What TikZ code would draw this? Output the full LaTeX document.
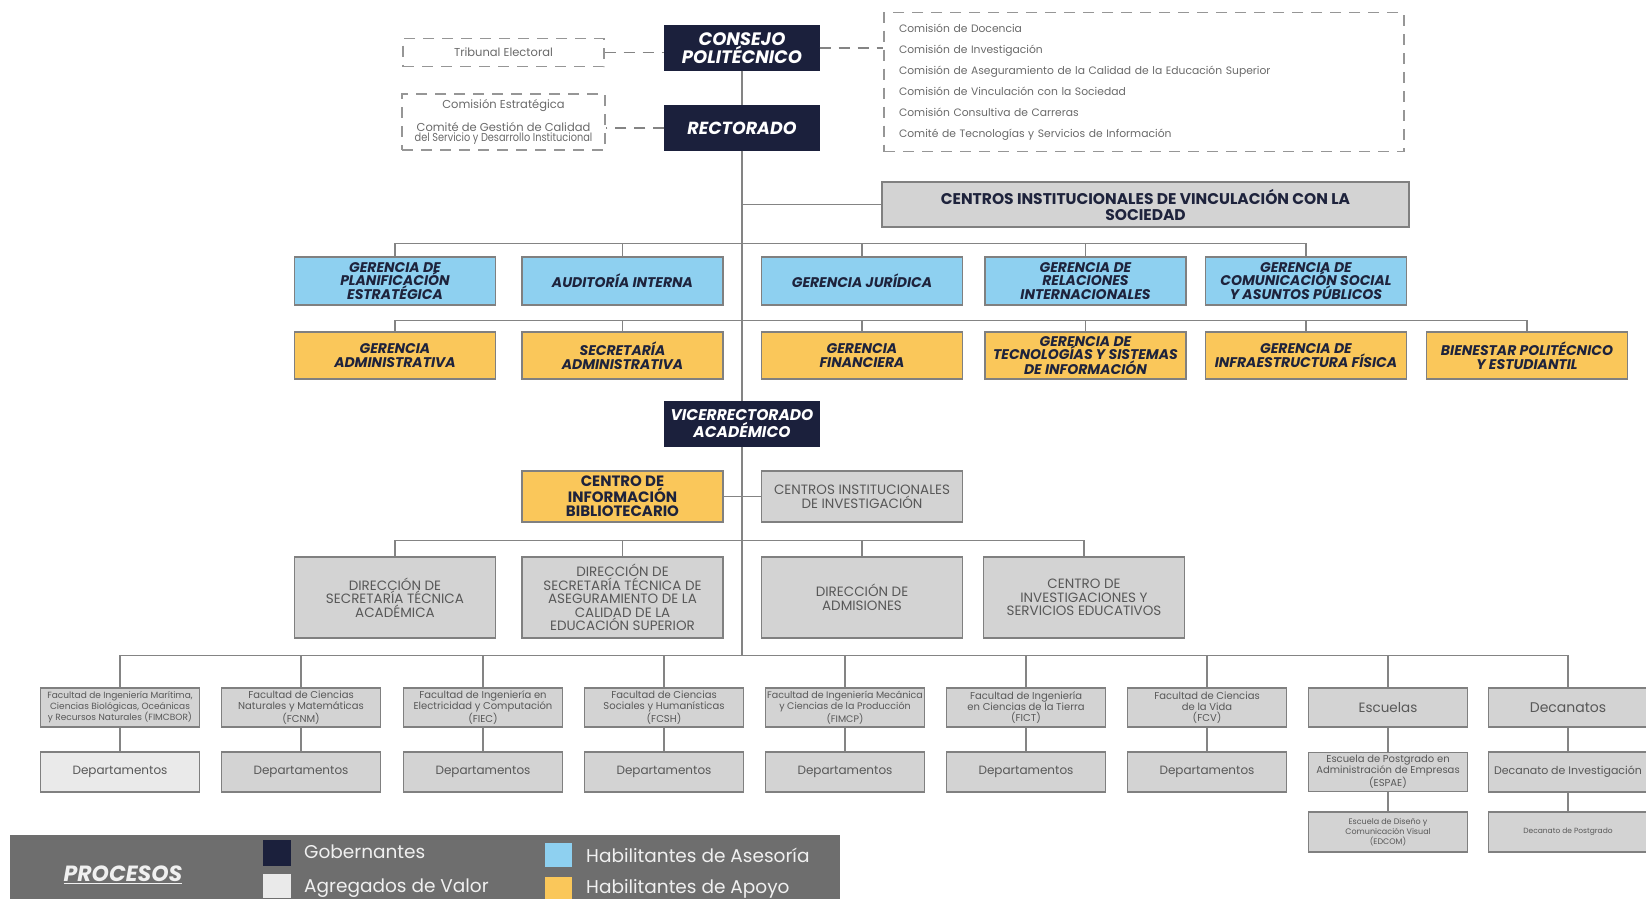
\documentclass[tikz,border=0pt]{standalone}
\usepackage{fontspec}
\setmainfont{Poppins}
\usepackage{graphicx}
\definecolor{navy}{RGB}{27,32,60}
\definecolor{navytext}{RGB}{30,35,60}
\definecolor{skyfill}{RGB}{142,208,240}
\definecolor{gold}{RGB}{250,199,90}
\definecolor{grayfill}{RGB}{211,211,211}
\definecolor{lightfill}{RGB}{234,234,234}
\definecolor{graytext}{RGB}{88,88,88}
\definecolor{boxline}{RGB}{128,128,128}
\definecolor{connline}{RGB}{132,132,132}
\definecolor{dashline}{RGB}{150,150,150}
\definecolor{dashtext}{RGB}{105,105,105}
\definecolor{legendbg}{RGB}{110,110,110}
\definecolor{legendtext}{RGB}{240,240,240}
\tikzset{
  boxbase/.style={draw=boxline, line width=1.4pt, rectangle, align=center, inner sep=2pt},
  gov/.style={boxbase, draw=navy, fill=navy, text=white,
    font=\fontsize{18}{18.5}\selectfont\bfseries\itshape,
    minimum width=154pt, minimum height=44pt},
  asesoria/.style={boxbase, fill=skyfill, text=navytext,
    font=\fontsize{14}{13.8}\selectfont\bfseries\itshape,
    minimum width=201pt, minimum height=48pt},
  apoyo/.style={asesoria, fill=gold, minimum height=47pt},
  valor/.style={boxbase, fill=grayfill, text=graytext,
    font=\fontsize{13.5}{13.6}\selectfont, minimum width=201pt},
  fac/.style={boxbase, fill=grayfill, text=graytext, inner sep=1pt,
    font=\fontsize{10}{11}\selectfont, minimum width=159pt, minimum height=39pt},
  dept/.style={fac, minimum height=40pt, font=\fontsize{12}{13}\selectfont},
  advisory/.style={draw=dashline, line width=1.2pt, dash pattern=on 11pt off 8pt,
    text=dashtext, align=center},
  conn/.style={draw=connline, line width=1.3pt},
  dconn/.style={conn, dash pattern=on 11pt off 8pt},
  swatch/.style={rectangle, inner sep=0pt},
  legtext/.style={text=legendtext, font=\fontsize{18.5}{18.5}\selectfont, anchor=west, inner sep=0pt}
}
\begin{document}
\begin{tikzpicture}[x=1pt,y=-1pt]
\useasboundingbox (0,0) rectangle (1646,898);

% ---------- governing bodies ----------
\node[gov] (consejo) at (742,48) {CONSEJO\\POLITÉCNICO};
\node[gov, font=\fontsize{17.5}{18}\selectfont\bfseries\itshape] (rector) at (742,128) {RECTORADO};
\node[gov, font=\fontsize{15.5}{17}\selectfont\bfseries\itshape] (vice) at (742,424) {VICERRECTORADO\\ACADÉMICO};

% ---------- advisory committees ----------
\node[advisory, minimum width=201pt, minimum height=28pt,
      font=\fontsize{11.5}{12}\selectfont] (trib) at (503.5,52.5) {Tribunal Electoral};
\node[advisory, minimum width=203pt, minimum height=56pt,
      font=\fontsize{11.5}{9.5}\selectfont] (cest) at (503.5,122)
  {Comisión Estratégica\\[10pt]Comité de Gestión de Calidad\\\scalebox{0.85}[1]{del Servicio y Desarrollo Institucional}};
\node[advisory, minimum width=520pt, minimum height=139pt, text width=490pt,
      align=left, inner xsep=15pt, font=\fontsize{10.75}{21}\selectfont] (comis) at (1144,82)
  {Comisión de Docencia\\
   Comisión de Investigación\\
   Comisión de Aseguramiento de la Calidad de la Educación Superior\\
   Comisión de Vinculación con la Sociedad\\
   Comisión Consultiva de Carreras\\
   Comité de Tecnologías y Servicios de Información};

\draw[dconn] (trib.east) -- (trib.east -| consejo.west);
\draw[dconn] (consejo.east) -- (consejo.east -| comis.west);
\draw[dconn] (rector.west) -- (rector.west -| cest.east);

% ---------- vinculación ----------
\node[valor, minimum width=527pt, minimum height=45pt, text=navytext,
      font=\fontsize{15.5}{16}\selectfont\bfseries] (vinc) at (1145.5,204.5)
  {CENTROS INSTITUCIONALES DE VINCULACIÓN CON LA\\SOCIEDAD};

% ---------- advisory units ----------
\node[asesoria] (b1) at (395,281) {GERENCIA DE\\PLANIFICACIÓN\\ESTRATÉGICA};
\node[asesoria] (b2) at (622.5,281) {AUDITORÍA INTERNA};
\node[asesoria] (b3) at (862,281) {GERENCIA JURÍDICA};
\node[asesoria] (b4) at (1085.5,281) {GERENCIA DE\\RELACIONES\\INTERNACIONALES};
\node[asesoria] (b5) at (1306,281) {GERENCIA DE\\COMUNICACIÓN SOCIAL\\Y ASUNTOS PÚBLICOS};

% ---------- support units ----------
\node[apoyo] (y1) at (395,355.5) {GERENCIA\\ADMINISTRATIVA};
\node[apoyo] (y2) at (622.5,355.5) {SECRETARÍA\\ADMINISTRATIVA};
\node[apoyo] (y3) at (862,355.5) {GERENCIA\\FINANCIERA};
\node[apoyo] (y4) at (1085.5,355.5) {GERENCIA DE\\TECNOLOGÍAS Y SISTEMAS\\DE INFORMACIÓN};
\node[apoyo] (y5) at (1306,355.5) {GERENCIA DE\\INFRAESTRUCTURA FÍSICA};
\node[apoyo] (y6) at (1527,355.5) {BIENESTAR POLITÉCNICO\\Y ESTUDIANTIL};

% ---------- academic area ----------
\node[apoyo, minimum height=51pt, font=\fontsize{15}{14.5}\selectfont\bfseries] (cib) at (622.5,496.5)
  {CENTRO DE\\INFORMACIÓN\\BIBLIOTECARIO};
\node[valor, minimum height=51pt] (cii) at (862,496.5) {CENTROS INSTITUCIONALES\\DE INVESTIGACIÓN};

\node[valor, minimum height=81pt] (d1) at (395,597.5) {DIRECCIÓN DE\\SECRETARÍA TÉCNICA\\ACADÉMICA};
\node[valor, minimum height=81pt] (d2) at (622.5,597.5)
  {DIRECCIÓN DE\\SECRETARÍA TÉCNICA DE\\ASEGURAMIENTO DE LA\\CALIDAD DE LA\\EDUCACIÓN SUPERIOR};
\node[valor, minimum height=81pt] (d3) at (862,597.5) {DIRECCIÓN DE\\ADMISIONES};
\node[valor, minimum height=81pt] (d4) at (1084,597.5) {CENTRO DE\\INVESTIGACIONES Y\\SERVICIOS EDUCATIVOS};

% ---------- faculties ----------
\node[fac, font=\fontsize{9}{11}\selectfont] (f1) at (120,707.5) {Facultad de Ingeniería Marítima,\\Ciencias Biológicas, Oceánicas\\y Recursos Naturales (FIMCBOR)};
\node[fac] (f2) at (301,707.5) {Facultad de Ciencias\\Naturales y Matemáticas\\(FCNM)};
\node[fac] (f3) at (483,707.5) {Facultad de Ingeniería en\\Electricidad y Computación\\(FIEC)};
\node[fac] (f4) at (664,707.5) {Facultad de Ciencias\\Sociales y Humanísticas\\(FCSH)};
\node[fac, font=\fontsize{9.5}{11}\selectfont] (f5) at (845,707.5) {Facultad de Ingeniería Mecánica\\y Ciencias de la Producción\\(FIMCP)};
\node[fac] (f6) at (1026,707.5) {Facultad de Ingeniería\\en Ciencias de la Tierra\\(FICT)};
\node[fac] (f7) at (1207,707.5) {Facultad de Ciencias\\de la Vida\\(FCV)};
\node[fac, font=\fontsize{13.5}{14}\selectfont] (f8) at (1388,707.5) {Escuelas};
\node[fac, font=\fontsize{14}{14}\selectfont] (f9) at (1568,707.5) {Decanatos};

\node[dept, fill=lightfill] (p1) at (120,772) {Departamentos};
\node[dept] (p2) at (301,772) {Departamentos};
\node[dept] (p3) at (483,772) {Departamentos};
\node[dept] (p4) at (664,772) {Departamentos};
\node[dept] (p5) at (845,772) {Departamentos};
\node[dept] (p6) at (1026,772) {Departamentos};
\node[dept] (p7) at (1207,772) {Departamentos};
\node[fac] (e1) at (1388,772) {Escuela de Postgrado en\\Administración de Empresas\\(ESPAE)};
\node[fac, minimum height=40pt, font=\fontsize{8}{10}\selectfont] (e2) at (1388,832) {Escuela de Diseño y\\Comunicación Visual\\(EDCOM)};
\node[fac, minimum height=40pt, font=\fontsize{11}{12}\selectfont] (k1) at (1568,772) {Decanato de Investigación};
\node[fac, minimum height=40pt, font=\fontsize{7.5}{9}\selectfont] (k2) at (1568,832) {Decanato de Postgrado};

% ---------- connectors ----------
\draw[conn] (consejo.south) -- (rector.north);
\draw[conn] (rector.south) -- (vice.north);
\coordinate (facbus) at (742,656);
\draw[conn] (vice.south) -- (facbus);
\draw[conn] (vinc.west) -- (vinc.west -| rector.south);

\draw[conn] (b1.north) -- ++(0,-12.5) -| (b5.north);
\foreach \n in {b2,b3,b4} \draw[conn] (\n.north) -- ++(0,-12.5);

\draw[conn] (y1.north) -- ++(0,-11) -| (y6.north);
\foreach \n in {y2,y3,y4,y5} \draw[conn] (\n.north) -- ++(0,-11);

\draw[conn] (cib.east) -- (cii.west);

\draw[conn] (d1.north) -- ++(0,-16) -| (d4.north);
\foreach \n in {d2,d3} \draw[conn] (\n.north) -- ++(0,-16);

\draw[conn] (f1.north) -- ++(0,-32) -| (f9.north);
\foreach \n in {f2,f3,f4,f5,f6,f7,f8} \draw[conn] (\n.north) -- ++(0,-32);

\foreach \a/\b in {f1/p1,f2/p2,f3/p3,f4/p4,f5/p5,f6/p6,f7/p7,f8/e1,e1/e2,f9/k1,k1/k2}
  \draw[conn] (\a.south) -- (\b.north);

% ---------- legend ----------
\node[rectangle, fill=legendbg, inner sep=0pt, minimum width=830pt, minimum height=66pt,
      anchor=north west] (legend) at (10,835) {};
\node[text=legendtext, font=\fontsize{22}{22}\selectfont\bfseries\itshape] (proc) at (123,875)
  {\underline{PROCESOS}};
\node[swatch, fill=navy, minimum width=28pt, minimum height=26pt] (sg) at (277,853) {};
\node[swatch, fill=lightfill, minimum width=28pt, minimum height=24pt] (sa) at (277,886) {};
\node[swatch, fill=skyfill, minimum width=27pt, minimum height=24pt] (sh) at (558.5,855) {};
\node[swatch, fill=gold, minimum width=27pt, minimum height=22pt] (sy) at (558.5,888) {};
\node[legtext] (lg) at (304,852) {Gobernantes};
\node[legtext] (la) at (304,888) {Agregados de Valor};
\node[legtext] (lh) at (586,855) {Habilitantes de Asesoría};
\node[legtext] (ly) at (586,889) {Habilitantes de Apoyo};
\end{tikzpicture}
\end{document}
